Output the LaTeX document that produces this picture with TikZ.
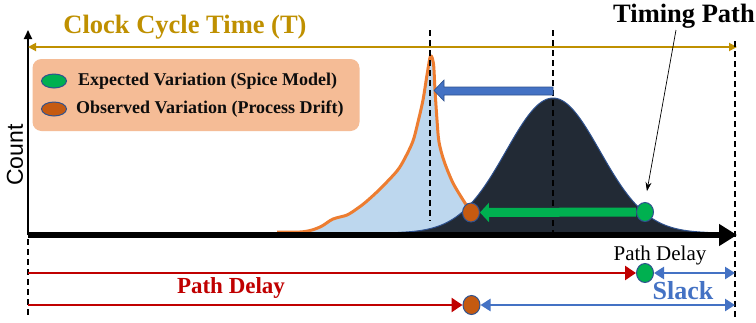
\documentclass[tikz,border=0pt]{standalone}
\usepackage{fontspec}
\setmainfont{Liberation Serif}
\newfontfamily\arialfont{Liberation Sans}
\usetikzlibrary{arrows.meta,shapes.geometric}
\definecolor{gold}{RGB}{191,144,0}
\definecolor{peach}{RGB}{245,188,150}
\definecolor{ggreen}{RGB}{0,176,80}
\definecolor{oorange}{RGB}{197,90,17}
\definecolor{dotedge}{RGB}{47,82,143}
\definecolor{lblue}{RGB}{189,215,238}
\definecolor{lorange}{RGB}{237,125,49}
\definecolor{navy}{RGB}{34,42,53}
\definecolor{mblue}{RGB}{68,114,196}
\definecolor{dred}{RGB}{192,0,0}
\begin{document}
\begin{tikzpicture}[x=1pt,y=-1pt,
  dot/.style={ellipse,draw=dotedge,line width=1pt,inner sep=0pt,minimum width=17pt,minimum height=19pt},
  gdot/.style={dot,fill=ggreen},
  odot/.style={dot,fill=oorange},
  legdot/.style={ellipse,draw=dotedge,line width=1pt,inner sep=0pt,minimum width=25pt,minimum height=14pt},
  legtext/.style={anchor=west,inner sep=0pt,font=\fontsize{18}{20}\selectfont\bfseries,text=black!95},
  vdash/.style={draw=black,line width=1.6pt,dash pattern=on 6pt off 4pt},
  redarrow/.style={draw=dred,line width=2.6pt,-{Triangle[length=11pt,width=14pt]}},
  bluedouble/.style={draw=mblue,line width=2.6pt,{Triangle[length=10pt,width=12pt]}-{Triangle[length=10pt,width=12pt]}},
]
\useasboundingbox (0,0) rectangle (756,322);
\fill[white] (0,0) rectangle (756,322);

% observed distribution (light blue, orange outline)
\fill[lblue] plot[smooth,tension=0.5] coordinates {(277,232) (300,232) (312,230) (322,226) (333,219) (347,215) (358,208) (367,201) (380,189) (397,171) (405,158) (413,141) (418,122) (423,100) (427,75) (430.5,56) (433.5,64) (435,90) (437,120) (439,142) (444,161) (453,183) (465,203) (472,213)} -- (472,233) -- cycle;
\draw[lorange,line width=3pt,line join=round] plot[smooth,tension=0.5] coordinates {(277,232) (300,232) (312,230) (322,226) (333,219) (347,215) (358,208) (367,201) (380,189) (397,171) (405,158) (413,141) (418,122) (423,100) (427,75) (430.5,56) (433.5,64) (435,90) (437,120) (439,142) (444,161) (453,183) (465,203) (472,213)};

% expected distribution (dark gaussian)
\fill[navy] (398,233) -- plot[domain=398:708,samples=120] (\x,{233-135*exp(-((\x-553)/47)^2/2)}) -- (708,233) -- cycle;
\draw[dotedge,line width=1pt] plot[domain=398:708,samples=120] (\x,{233-135*exp(-((\x-553)/47)^2/2)});

% axes
\coordinate (o) at (28,235);
\coordinate (ytop) at (28,30);
\coordinate (xend) at (737,235);
\draw[line width=1.8pt,-{Triangle[length=9pt,width=8pt]}] (o) -- (ytop);
\draw[line width=6pt,-{Triangle[length=18pt,width=21pt]}] (o) -- (xend);
\node[font=\arialfont\fontsize{23}{25}\selectfont,rotate=90] (count) at (15,155) {Count};

% clock cycle
\coordinate (cl) at (28,47);
\coordinate (cr) at (737,47);
\draw[gold,line width=1.8pt,{Triangle[length=8pt,width=8pt]}-{Triangle[length=8pt,width=8pt]}] (cl) -- (cr);
\node[font=\fontsize{26.5}{30}\selectfont\bfseries,text=gold] (clock) at (185,27) {Clock Cycle Time (T)};

% dashed lines
\coordinate (d1t) at (430,30); \coordinate (d1b) at (430,221);
\coordinate (d2t) at (553,30); \coordinate (d2b) at (553,233);
\coordinate (d3t) at (735,41); \coordinate (d3b) at (735,318);
\coordinate (d0t) at (28,239); \coordinate (d0b) at (28,318);
\draw[vdash] (d1t) -- (d1b);
\draw[vdash] (d2t) -- (d2b);
\draw[vdash] (d3t) -- (d3b);
\draw[vdash] (d0t) -- (d0b);

% shift arrow (blue block arrow)
\fill[mblue,draw=dotedge,line width=0.6pt] (553,87) -- (444,87) -- (444,80) -- (434,90.5) -- (444,101) -- (444,95) -- (553,95) -- cycle;

% legend
\node[fill=peach,rounded corners=9pt,minimum width=327pt,minimum height=72pt,inner sep=0pt] (legend) at (196,95) {};
\node[legdot,fill=ggreen] (lg) at (54,81) {};
\node[legdot,fill=oorange] (lo) at (54,109) {};
\node[legtext] (lgt) at (78,81) {Expected Variation (Spice Model)};
\node[legtext] (lot) at (76,109) {Observed Variation (Process Drift)};

% dots on the curves and green arrow
\node[gdot] (g1) at (645,212) {};
\node[odot] (o1) at (471,212.5) {};
\draw[ggreen,line width=9pt,-{Triangle[length=9pt,width=19pt]}] (g1.west) -- (o1.east);

% timing path label
\node[font=\fontsize{26.5}{30}\selectfont\bfseries] (tp) at (684,16) {Timing Path};
\coordinate (tps) at (676,30);
\draw[line width=0.7pt,-{Stealth[length=9pt,width=6pt]},shorten >=11pt] (tps) -- (g1.north);

% bottom path delay rows
\node[gdot] (g2) at (645,273) {};
\node[odot] (o2) at (471.5,305) {};
\coordinate (r1) at (28,273);
\coordinate (r2) at (28,305);
\coordinate (e1) at (735,273);
\coordinate (e2) at (735,305);
\draw[redarrow] (r1) -- (g2.west);
\draw[redarrow] (r2) -- (o2.west);
\draw[bluedouble] (g2.east) -- (e1);
\draw[bluedouble] (o2.east) -- (e2);

\node[font=\fontsize{21}{23}\selectfont] (pd1) at (660,255) {Path Delay};
\node[font=\fontsize{23}{25}\selectfont\bfseries,text=dred] (pd2) at (231,288) {Path Delay};
\node[font=\fontsize{26}{28}\selectfont\bfseries,text=mblue] (slack) at (683,291) {Slack};
\end{tikzpicture}
\end{document}
